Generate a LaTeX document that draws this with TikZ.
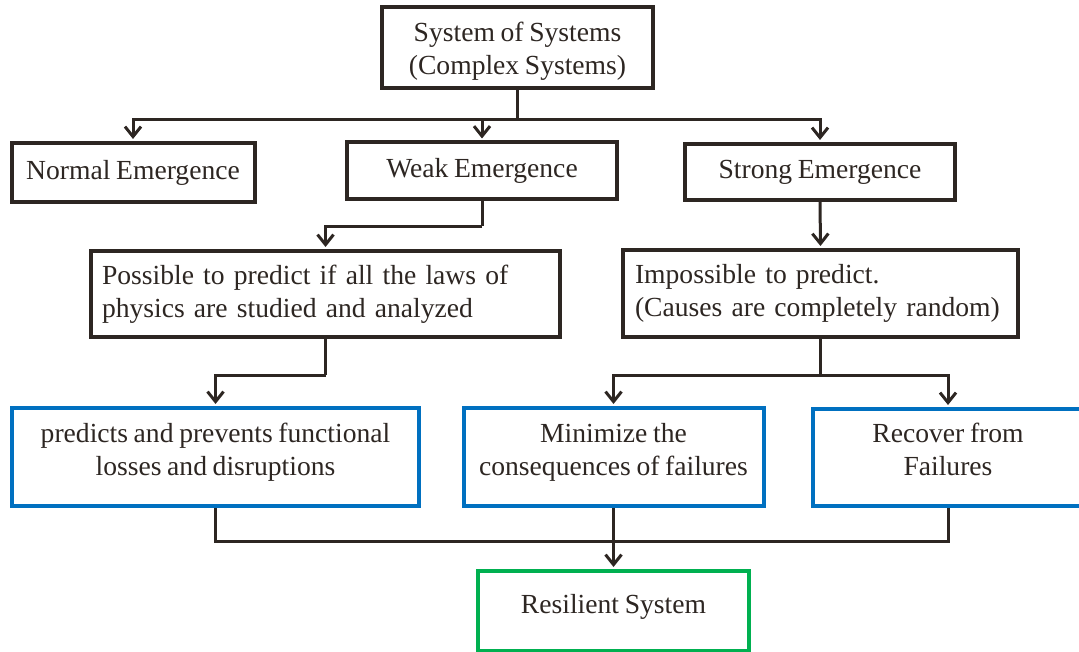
\documentclass[tikz,border=0pt]{standalone}
\usepackage{fontspec}
\setmainfont[WordSpace=0.82]{Liberation Serif}
\usetikzlibrary{arrows.meta,calc}
\definecolor{ink}{HTML}{2D2622}
\definecolor{bluebox}{HTML}{0070C0}
\definecolor{greenbox}{HTML}{00B050}
\tikzset{
  basebox/.style={draw, rectangle, line width=4pt, text=ink, inner sep=0pt,
    font=\fontsize{27.6}{33}\selectfont},
  darkbox/.style={basebox, draw=ink},
  bluebx/.style={basebox, draw=bluebox, align=center, text depth=16pt},
  greenbx/.style={basebox, draw=greenbox, text depth=15pt},
  conn/.style={draw=ink, line width=3pt},
  arr/.style={conn, -{Straight Barb[length=10pt,width=16pt,line width=3pt]}},
}
\begin{document}
\begin{tikzpicture}[x=1pt,y=-1pt]
\useasboundingbox (0,0) rectangle (1079,652);
\node[darkbox, align=center, text depth=0pt, minimum width=271, minimum height=81] (top) at (517.5,48) {System of Systems\\(Complex Systems)};
\node[darkbox, minimum width=243, minimum height=59] (normal) at (133,172.5) {Normal Emergence};
\node[darkbox, minimum width=270, minimum height=57] (weak) at (482,171) {Weak Emergence};
\node[darkbox, minimum width=270, minimum height=56] (strong) at (820,172) {Strong Emergence};
\node[darkbox, align=left, text width=447, inner xsep=11, minimum height=86] (possible) at (325.5,294) {Possible to predict if all the laws of\\physics are studied and analyzed};
\node[darkbox, align=left, text width=371, inner xsep=12, minimum height=87] (impossible) at (820.5,293.5) {Impossible to predict.\\(Causes are completely random)};
\node[bluebx, minimum width=407, minimum height=98] (predicts) at (215.5,457) {predicts and prevents functional\\losses and disruptions};
\node[bluebx, minimum width=300, minimum height=98] (minimize) at (613.5,457) {Minimize the\\consequences of failures};
\node[bluebx, minimum width=270, minimum height=97] (recover) at (948,457.5) {Recover from\\Failures};
\node[greenbx, minimum width=271, minimum height=80] (res) at (613.5,611) {Resilient System};
% connectors
\coordinate (j1) at ($(top.south)+(0,29)$);
\draw[conn] (top.south) -- (j1);
\draw[arr] (j1) -| ($(normal.north)+(0,-2)$);
\draw[arr] (j1) -| ($(weak.north)+(0,-2)$);
\draw[arr] (j1) -| ($(strong.north)+(0,-2)$);
\coordinate (j2) at ($(weak.south)+(0,25)$);
\draw[conn] (weak.south) -- (j2);
\draw[arr] (j2) -| ($(possible.north)+(0,-2)$);
\draw[arr] (strong.south) -- ($(impossible.north)+(0,-2)$);
\coordinate (j3) at ($(possible.south)+(0,36)$);
\draw[conn] (possible.south) -- (j3);
\draw[arr] (j3) -| ($(predicts.north)+(0,-2)$);
\coordinate (j4) at ($(impossible.south)+(0,36)$);
\draw[conn] (impossible.south) -- (j4);
\draw[arr] (j4) -| ($(minimize.north)+(0,-2)$);
\draw[arr] (j4) -| ($(recover.north)+(0,-2)$);
\coordinate (j5) at ($(predicts.south)+(0,33)$);
\coordinate (j6) at ($(recover.south)+(0,33)$);
\draw[conn] (predicts.south) -- (j5) -- (j6) -- (recover.south);
\draw[arr] (minimize.south) -- ($(res.north)+(0,-2)$);
\end{tikzpicture}
\end{document}
